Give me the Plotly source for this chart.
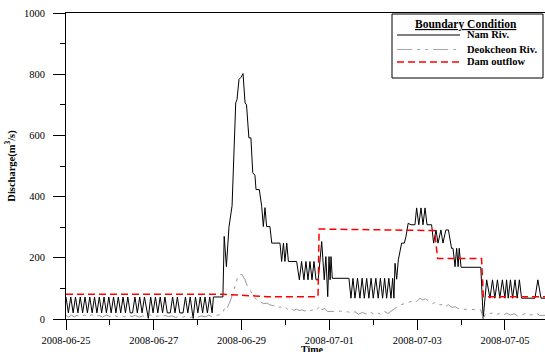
import pandas as pd
import plotly.graph_objects as go

BASE = pd.Timestamp("2008-06-25 00:00")

# ---- Nam Riv. (hours from 2008-06-25 00:00, discharge m3/s)
nam_hours = [0, 1.3, 2.6, 3.9, 5.2, 6.5, 7.8, 9.1, 10.4, 11.7, 13.0, 14.3, 15.6, 16.9, 18.2, 19.5,
             20.8, 22.1, 23.4, 24.7, 26.0, 27.3, 28.6, 29.9, 31.2, 32.5, 33.8, 35.1, 36.4, 37.7,
             39.0, 40.3, 41.6, 42.9, 45.0, 46.3, 47.6, 48.9, 50.2, 51.5, 52.8, 54.1, 55.4, 57.0,
             58.3, 59.6, 60.9, 62.2, 64.0, 65.3, 66.6, 67.9, 69.5, 70.8, 72.1, 73.4, 74.7, 76.0,
             77.3, 78.6, 79.9, 80.6, 85.8,
             86.5, 87.7, 89.1, 90.8, 91.8, 92.8, 93.5, 94.6, 95.7, 96.8, 97.9, 98.7, 100.0, 101.1,
             102.1, 103.3, 103.9, 105.7, 107.0, 107.9, 108.8, 109.7, 111.5, 112.5, 117.0, 117.9,
             118.9, 119.7, 120.7, 121.6, 126.1, 127.6, 128.8, 130.1, 131.2, 132.3, 133.4, 134.5,
             135.6, 136.7, 137.9, 139.8, 141.2, 142.1, 143.1, 143.8, 144.4, 144.9, 145.6, 154.7,
             155.8, 156.9, 158.0, 159.4, 160.7, 161.9, 163.1, 164.4, 165.6, 166.8, 168.0, 169.4,
             170.7, 171.9, 173.1, 174.2, 175.3, 176.5, 177.7, 178.6, 179.3, 179.9, 180.8, 181.7,
             183.5, 185.0, 185.9, 187.1, 188.6, 190.8, 191.7, 192.9, 194.1, 195.2, 196.3, 197.4,
             199.9, 201.0, 202.3, 203.4, 205.0, 206.1, 207.7, 209.1, 210.8, 211.6, 212.7, 213.6,
             214.4, 215.0, 216.0, 226.8, 228.1, 230.0, 231.8, 233.2, 234.5, 235.9, 237.2, 238.6,
             240.0, 240.9, 241.8, 243.0, 244.2, 245.5, 246.7, 247.9, 249.1, 256.4, 258.0, 259.7,
             262.0]
nam_values = [72, 20, 72, 20, 72, 20, 72, 20, 72, 20, 72, 20, 72, 20, 72, 20,
              72, 20, 72, 20, 72, 20, 72, 20, 72, 20, 72, 20, 20, 72,
              20, 72, 20, 72, 2, 72, 20, 72, 20, 72, 20, 72, 20, 20,
              72, 20, 72, 20, 20, 72, 20, 72, 2, 72, 20, 72, 20, 72,
              20, 72, 20, 72, 72,
              270, 171, 300, 370, 560, 706, 717, 783, 790, 802, 706, 700, 592, 592,
              478, 470, 423, 423, 368, 302, 364, 302, 302, 248, 248, 188,
              248, 188, 248, 188, 188, 128, 188, 128, 188, 128, 188, 128,
              188, 128, 128, 253, 128, 204, 73, 204, 128, 204, 133, 133,
              68, 133, 68, 133, 68, 133, 68, 133, 68, 133, 68, 133,
              68, 133, 68, 133, 68, 133, 68, 133, 68, 182, 130, 193,
              248, 248, 270, 313, 308, 308, 363, 308, 363, 308, 363, 308,
              308, 248, 291, 248, 291, 248, 291, 291, 231, 231, 171, 231,
              171, 231, 169, 169, 2, 128, 68, 128, 68, 128, 68, 128,
              68, 128, 68, 128, 68, 128, 68, 128, 68, 68, 128, 68,
              68]

# ---- Deokcheon Riv.
deok_hours = [0, 1.5, 3, 4.5, 6, 8, 10, 12, 14, 16, 18, 20, 22, 24, 26, 28, 30, 32, 34, 36, 38,
              40, 42, 44, 46, 48, 50, 52, 54, 56, 58, 60, 62, 64, 66, 68, 70, 72, 74, 76, 78, 80,
              82.5, 84, 86, 87, 88, 89.7, 91.3, 92.5, 94, 95, 96.2, 97.9, 99, 100.6, 102, 103.3,
              104.5, 106, 108, 110, 111.5, 113, 114, 115.5, 117, 118.5, 120, 121.5, 123, 124.5,
              126, 127.5, 129, 130.5, 132, 133.5, 135, 136.5, 138, 139, 140, 141.5, 143, 145, 148,
              150, 152, 154, 156, 158, 160, 162, 164, 166, 168, 170, 172, 174, 176, 178, 180,
              182.6, 185, 188, 190, 191.5, 193.5, 195, 196.5, 198, 199, 200.5, 202, 204.5, 206,
              207.5, 209, 211, 213, 214, 216, 226.8, 228.1, 229.6, 231, 233, 235, 237, 239, 241,
              243, 245, 247, 249, 251, 253, 255, 257, 259, 262]
deok_values = [12, 6, 13, 7, 12, 6, 13, 8, 14, 7, 12, 6, 13, 8, 14, 8, 12, 7, 13, 8, 12,
               6, 10, 8, 13, 7, 10, 6, 12, 8, 10, 5, 9, 6, 10, 5, 9, 6, 10, 7, 12, 8,
               12, 14, 25, 40, 35, 57, 84, 110, 139, 144, 146, 128, 110, 95, 80, 68,
               62, 57, 50, 52, 46, 44, 43, 36, 40, 34, 38, 30, 34, 28,
               32, 28, 30, 26, 32, 27, 30, 26, 35, 43, 30, 35, 24, 25, 24,
               26, 22, 24, 18, 24, 15, 22, 16, 24, 17, 22, 15, 25, 18, 26, 35,
               46, 50, 57, 60, 56, 68, 62, 66, 60, 57, 50, 55, 46, 48,
               40, 47, 38, 40, 35, 32, 30, 2, 19, 15, 20, 13, 18, 12, 19,
               13, 17, 10, 12, 18, 13, 14, 20, 12, 12]

# ---- Dam outflow
dam_hours = [0, 86, 110, 137.8, 138.4, 201.5, 203.2, 227.2, 228.2, 262]
dam_values = [81, 81, 73, 73, 294, 289, 198, 198, 73, 73]

y_ticks = [0, 200, 400, 600, 800, 1000]
x_tick_labels = ["2008-06-25", "2008-06-27", "2008-06-29", "2008-07-01", "2008-07-03", "2008-07-05"]

series_names = ["Nam Riv.", "Deokcheon Riv.", "Dam outflow"]
series_colors = ["black", "#999999", "#ff0000"]
series_widths = [1, 1, 1.5]
series_dashes = ["solid", "15px,5px,3px,5px,3px,5px", "7px,4px"]
legend_title = "Boundary Condition"


def to_time(hours):
    return BASE + pd.to_timedelta(hours, unit="h")


FONT = "Liberation Serif, Times New Roman, serif"

# plot area in pixels (for placing the hand-drawn legend box)
L, R, T, B = 66, 545, 13, 319


def px(xp):
    return (xp - L) / (R - L)


def py(yp):
    return (B - yp) / (B - T)


fig = go.Figure()
for hrs, vals, nm, col, w, d in zip([nam_hours, deok_hours, dam_hours],
                                    [nam_values, deok_values, dam_values],
                                    series_names, series_colors, series_widths, series_dashes):
    fig.add_trace(go.Scatter(x=to_time(hrs), y=vals, mode="lines", name=nm,
                             line=dict(color=col, width=w, dash=d), showlegend=False))

# legend drawn by hand (box, samples, labels)
shapes = [dict(type="rect", xref="paper", yref="paper", x0=px(392), x1=px(543), y0=py(78), y1=py(14),
               line=dict(color="black", width=1), fillcolor="white", layer="above")]
annotations = [dict(text="<b><u>" + legend_title + "</u></b>", xref="paper", yref="paper",
                    x=px(466), y=py(25), xanchor="center", yanchor="middle", showarrow=False,
                    font=dict(family=FONT, size=11.5, color="black"))]
for i, (nm, col, w, d) in enumerate(zip(series_names, series_colors, series_widths, series_dashes)):
    yy = [35, 49.5, 62][i]
    shapes.append(dict(type="line", xref="paper", yref="paper", x0=px(397), x1=px(460), y0=py(yy), y1=py(yy),
                       line=dict(color=col if i != 1 else "#aaaaaa", width=w, dash=d), layer="above"))
    annotations.append(dict(text="<b>" + nm + "</b>", xref="paper", yref="paper", x=px(465), y=py(yy),
                            xanchor="left", yanchor="middle", showarrow=False,
                            font=dict(family=FONT, size=10.5, color="black")))

annotations.append(dict(text="<b>Time</b>", xref="paper", yref="paper", x=px(312.5), y=0,
                        yshift=-30, xanchor="center", yanchor="middle", showarrow=False,
                        font=dict(family=FONT, size=10, color="black")))

tick_vals = [pd.Timestamp(s) for s in x_tick_labels]

fig.update_layout(
    width=545, height=352,
    margin=dict(l=L, r=0, t=T, b=352 - B),
    paper_bgcolor="white", plot_bgcolor="white",
    font=dict(family=FONT, size=10, color="black"),
    showlegend=False,
    shapes=shapes,
    annotations=annotations,
    xaxis=dict(
        type="date",
        range=[BASE, BASE + pd.Timedelta(hours=261.9)],
        tickvals=tick_vals, ticktext=x_tick_labels,
        ticks="outside", ticklen=10, tickwidth=1, tickcolor="black",
        minor=dict(dtick=86400000, tick0=BASE, ticks="outside", ticklen=5, tickcolor="black"),
        showline=True, linecolor="black", linewidth=1, mirror=True,
        showgrid=False, zeroline=False,
        ticklabelstandoff=1,
        tickfont=dict(family=FONT, size=10.5, color="black"),
    ),
    yaxis=dict(
        range=[0, 1000],
        tickvals=y_ticks,
        ticks="outside", ticklen=12, tickwidth=1, tickcolor="black",
        minor=dict(dtick=100, ticks="outside", ticklen=5, tickcolor="black"),
        showline=True, linecolor="black", linewidth=1,
        showgrid=False, zeroline=False,
        tickfont=dict(family=FONT, size=10.5, color="black"),
        ticklabelstandoff=6,
        title=dict(text="<b>Discharge(m<sup>3</sup>/s)</b>", font=dict(family=FONT, size=10.5, color="black"),
                   standoff=6),
    ),
)

fig.write_html("out.html")
